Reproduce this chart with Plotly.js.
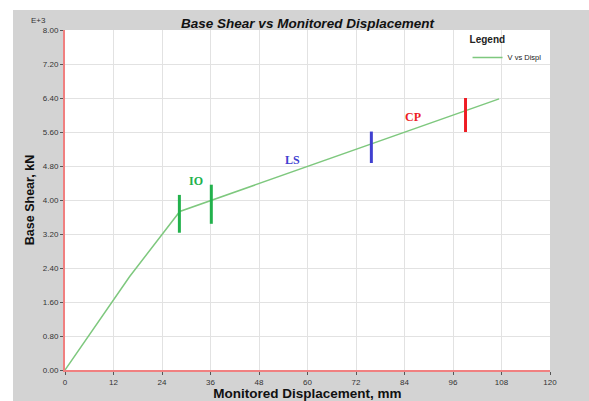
<!DOCTYPE html>
<html><head><meta charset="utf-8">
<script src="https://cdn.plot.ly/plotly-3.0.1.min.js"></script>
<style>
html,body{margin:0;padding:0;background:#fff;width:589px;height:401px;overflow:hidden}
#chart{position:absolute;left:13px;top:10px;width:576px;height:391px}
</style></head>
<body><div id="chart"></div>
<script>
// Displacement (mm) and base shear (kN, E+3)
const displ = [0, 16, 28.4, 60.1, 84.5, 107.4];
const shear = [0, 2.2, 3.73, 4.80, 5.61, 6.38];

// Performance level markers (vertical bars)
const markerNames = ['IO', 'IO', 'LS', 'CP'];
const markerX = [28.3, 36.2, 75.8, 99.1];
const markerYLow = [3.23, 3.44, 4.87, 5.60];
const markerYHigh = [4.12, 4.36, 5.61, 6.40];
const markerColors = ['#22b14c', '#22b14c', '#4040d0', '#ee1c24'];

// Labels
const labelText = ['IO', 'LS', 'CP'];
const labelX = [32.5, 56.3, 86.0];
const labelY = [4.44, 4.95, 5.96];
const labelColors = ['#22b14c', '#4040d0', '#ee1c24'];

const xTicks = [0, 12, 24, 36, 48, 60, 72, 84, 96, 108, 120];
const yTicks = [0, 0.8, 1.6, 2.4, 3.2, 4.0, 4.8, 5.6, 6.4, 7.2, 8.0];

const traces = [{
  x: displ, y: shear, mode: 'lines', name: 'V vs Displ',
  line: {color: '#7ec87e', width: 1.5}
}];
for (let i = 0; i < markerX.length; i++) {
  traces.push({
    x: [markerX[i], markerX[i]], y: [markerYLow[i], markerYHigh[i]],
    mode: 'lines', showlegend: false, hoverinfo: 'skip',
    line: {color: markerColors[i], width: 3}
  });
}

const annotations = labelText.map((t, i) => ({
  x: labelX[i], y: labelY[i], xref: 'x', yref: 'y', text: '<b>' + t + '</b>',
  showarrow: false, font: {family: 'Liberation Serif, Times New Roman, serif', size: 12, color: labelColors[i]}
}));
annotations.push({
  xref: 'paper', yref: 'paper', x: -0.035, y: 1.01, xanchor: 'right', yanchor: 'bottom',
  text: 'E+3', showarrow: false, font: {family: 'Liberation Sans, Arial, sans-serif', size: 8, color: '#333'}
});

const axisFont = {family: 'Liberation Sans, Arial, sans-serif', size: 8, color: '#333'};

const layout = {
  width: 576, height: 391,
  paper_bgcolor: '#d3d3d3', plot_bgcolor: '#ffffff',
  margin: {l: 51.5, r: 38.5, t: 20, b: 30.5},
  title: {text: '<b><i>Base Shear vs Monitored Displacement</i></b>',
    font: {family: 'Liberation Sans, Arial, sans-serif', size: 13.5, color: '#111'},
    x: 0.5, xref: 'paper', xanchor: 'center', y: 1, yref: 'paper', yanchor: 'bottom', pad: {b: 2}},
  xaxis: {range: [0, 120], tickvals: xTicks, ticktext: xTicks.map(String),
    showgrid: true, gridcolor: '#e2e2e2', gridwidth: 1,
    showline: true, linecolor: '#f08080', linewidth: 2,
    ticks: 'outside', ticklen: 3, tickcolor: '#555', tickfont: axisFont,
    zeroline: false,
    title: {text: '<b>Monitored Displacement, mm</b>', standoff: 1,
      font: {family: 'Liberation Sans, Arial, sans-serif', size: 13.5, color: '#111'}}},
  yaxis: {range: [0, 8], tickvals: yTicks, ticktext: yTicks.map(v => v.toFixed(2)),
    showgrid: true, gridcolor: '#e2e2e2', gridwidth: 1,
    showline: true, linecolor: '#f08080', linewidth: 2,
    ticks: 'outside', ticklen: 3, tickcolor: '#555', tickfont: axisFont,
    zeroline: false,
    title: {text: '<b>Base Shear, kN</b>', standoff: 5,
      font: {family: 'Liberation Sans, Arial, sans-serif', size: 12.5, color: '#111'}}},
  showlegend: true,
  legend: {x: 0.83, y: 1.0, xanchor: 'left', yanchor: 'top', bgcolor: 'rgba(0,0,0,0)',
    title: {text: '<b>Legend</b>', font: {family: 'Liberation Sans, Arial, sans-serif', size: 10, color: '#222'}},
    font: {family: 'Liberation Sans, Arial, sans-serif', size: 7.5, color: '#222'},
    itemwidth: 30, tracegroupgap: 0},
  annotations: annotations
};

Plotly.newPlot('chart', traces, layout, {displayModeBar: false, staticPlot: true});
</script></body></html>
